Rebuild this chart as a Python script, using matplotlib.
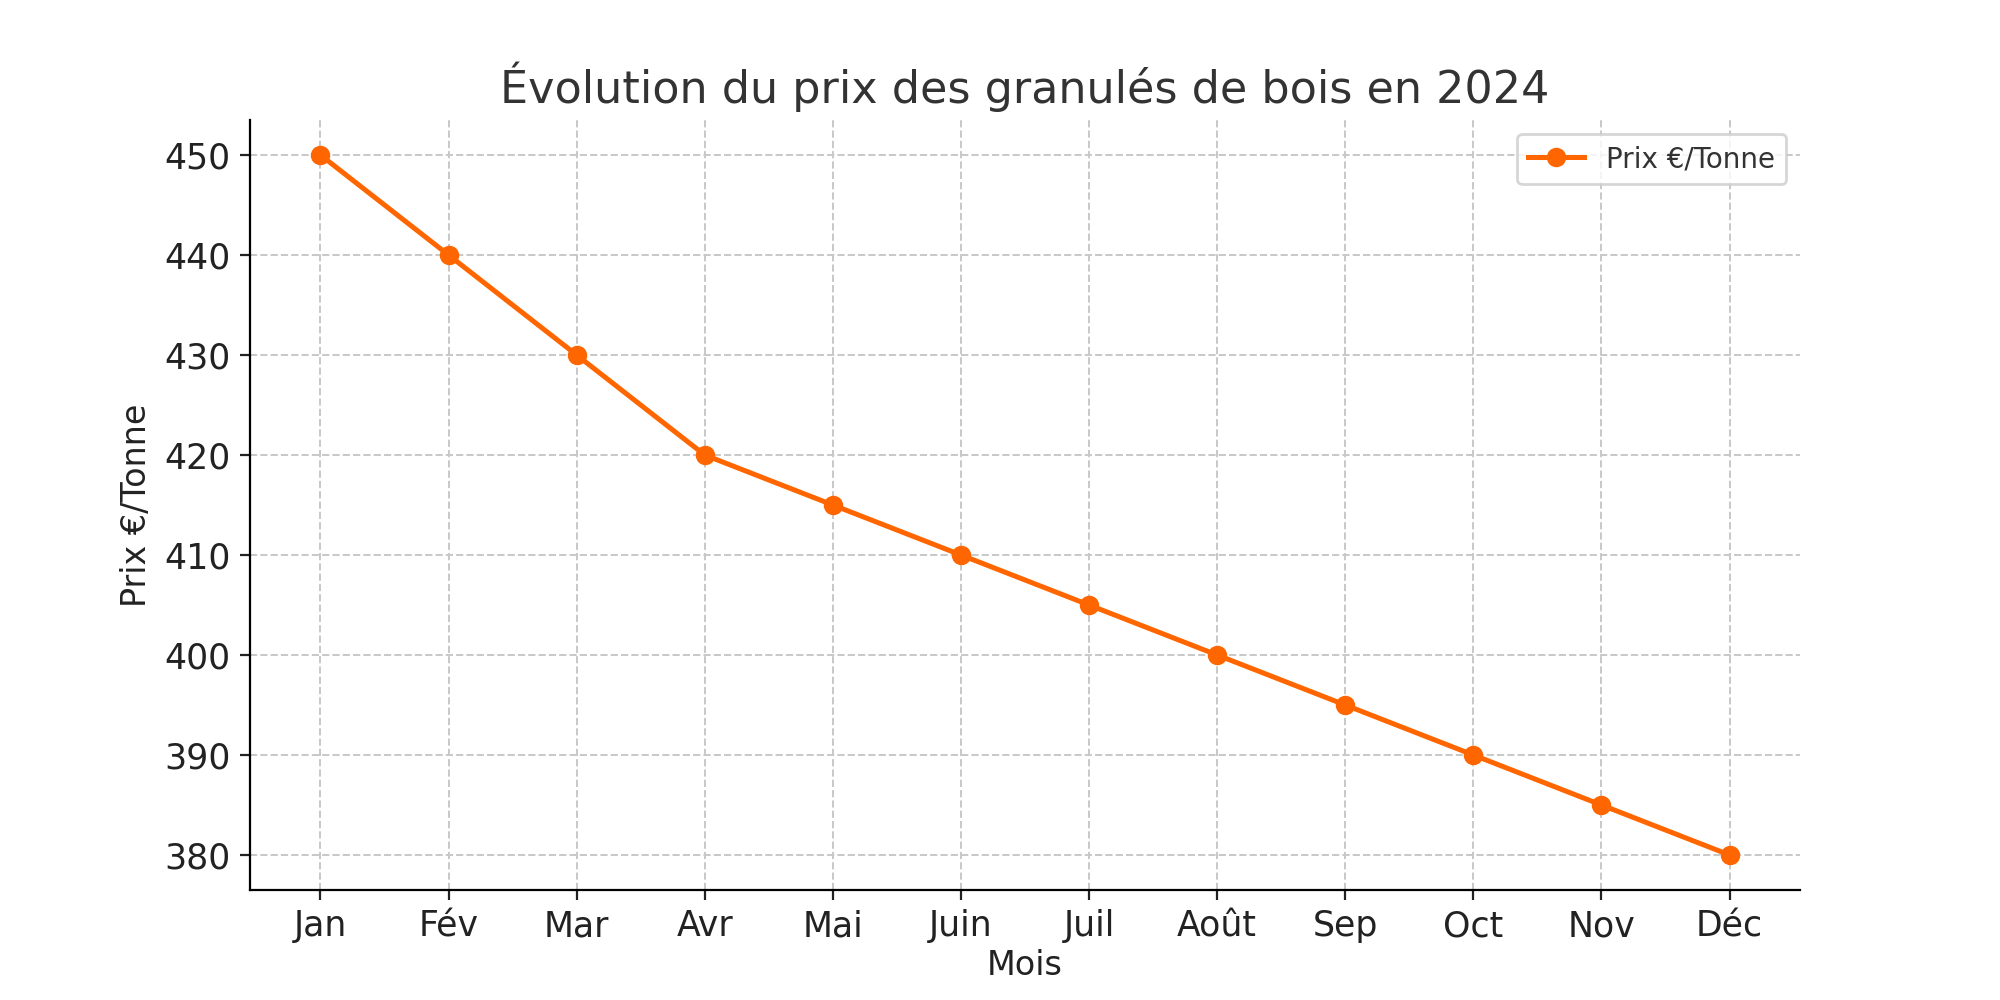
import matplotlib
matplotlib.use("Agg")
import matplotlib.pyplot as plt

months = ["Jan", "Fév", "Mar", "Avr", "Mai", "Juin", "Juil", "Août", "Sep", "Oct", "Nov", "Déc"]
prices = [450, 440, 430, 420, 415, 410, 405, 400, 395, 390, 385, 380]

plt.rcParams["text.color"] = "#333333"
plt.rcParams["axes.labelcolor"] = "#222222"
plt.rcParams["xtick.color"] = "#222222"
plt.rcParams["ytick.color"] = "#222222"

fig, ax = plt.subplots(figsize=(10, 5), dpi=200)
ax.plot(months, prices, marker="o", color="#ff6600", linewidth=1.8, markersize=6, label="Prix €/Tonne")
ax.set_title("Évolution du prix des granulés de bois en 2024", fontsize=16)
ax.set_xlabel("Mois", fontsize=12, labelpad=2)
ax.set_ylabel("Prix €/Tonne", fontsize=12)
ax.tick_params(labelsize=12.5)
ax.grid(True, linestyle="--", color="#c8c8c8", linewidth=0.7)
ax.spines["top"].set_visible(False)
ax.spines["right"].set_visible(False)
ax.legend(loc="upper right", fontsize=10)
fig.savefig("out.png")
